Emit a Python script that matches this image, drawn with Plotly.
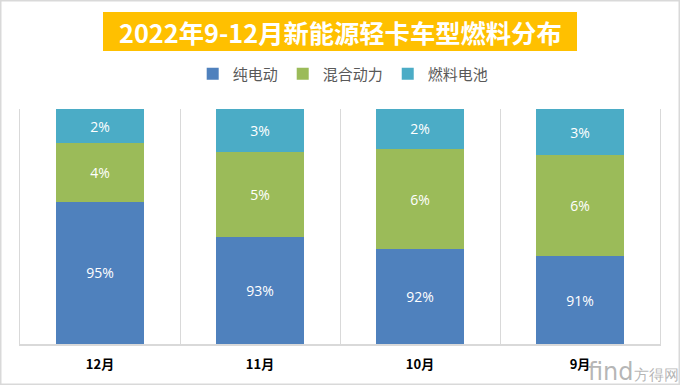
import plotly.graph_objects as go

# Categories (x axis)
months = ["12月", "11月", "10月", "9月"]

# Series names
series_names = ["纯电动", "混合动力", "燃料电池"]

# Printed data labels (%), as shown in the chart
label_bev = [95, 93, 92, 91]
label_hev = [4, 5, 6, 6]
label_fcev = [2, 3, 2, 3]

# Visible segment shares (%), as drawn in the picture
share_bev = [60.6, 45.7, 40.3, 37.4]
share_hev = [24.9, 35.9, 42.7, 43.0]
share_fcev = [14.5, 18.4, 17.0, 19.6]

colors = ["#4F81BD", "#9BBB59", "#4BACC6"]

W, H = 680, 385
ML, MR, MT, MB = 20, 20, 109, 41
PW, PH = W - ML - MR, H - MT - MB


def px_x(px):
    return (px - ML) / PW


def px_y(py):
    return (H - MB - py) / PH


fig = go.Figure()
for name, share, lab, col in zip(
    series_names,
    [share_bev, share_hev, share_fcev],
    [label_bev, label_hev, label_fcev],
    colors,
):
    fig.add_trace(
        go.Bar(
            x=months,
            y=share,
            name=name,
            marker=dict(color=col, line=dict(width=0)),
            text=[f"{v}%" for v in lab],
            textposition="inside",
            insidetextanchor="middle",
            textangle=0,
            textfont=dict(family="Open Sans", size=14, color="white"),
            hoverinfo="skip",
        )
    )

fig.update_layout(
    width=W,
    height=H,
    margin=dict(l=ML, r=MR, t=MT, b=MB, pad=0),
    barmode="stack",
    barnorm="percent",
    bargap=0.444,
    paper_bgcolor="white",
    plot_bgcolor="white",
    showlegend=True,
    legend=dict(
        orientation="h",
        x=0.505,
        xanchor="center",
        y=px_y(74),
        yanchor="middle",
        traceorder="normal",
        font=dict(family="Noto Sans CJK SC", size=15, color="#595959"),
        itemwidth=30,
        bgcolor="rgba(0,0,0,0)",
    ),
    xaxis=dict(
        type="category",
        tickson="boundaries",
        showgrid=True,
        gridcolor="#D9D9D9",
        gridwidth=1,
        showline=True,
        linecolor="#D9D9D9",
        linewidth=1.5,
        ticks="",
        ticklabelstandoff=8,
        tickfont=dict(family="Noto Sans CJK SC", size=13, color="#000000", weight="bold"),
        fixedrange=True,
    ),
    yaxis=dict(
        range=[0, 100],
        showticklabels=False,
        showgrid=False,
        zeroline=False,
        showline=True,
        linecolor="#D9D9D9",
        linewidth=1,
        mirror=True,
        ticks="",
        fixedrange=True,
    ),
)

# Title box (gold) and title text
fig.add_shape(
    type="rect",
    xref="paper",
    yref="paper",
    x0=px_x(103),
    x1=px_x(577),
    y0=px_y(51),
    y1=px_y(12),
    fillcolor="#FFC000",
    line=dict(width=0),
    layer="below",
)
fig.add_annotation(
    xref="paper",
    yref="paper",
    x=px_x(340),
    y=px_y(31.5),
    xanchor="center",
    yanchor="middle",
    text="<b>2022年9-12月新能源轻卡车型燃料分布</b>",
    showarrow=False,
    font=dict(family="Noto Sans CJK SC", size=25.3, color="white"),
)

# Outer chart border
fig.add_shape(
    type="rect",
    xref="paper",
    yref="paper",
    x0=px_x(0.75),
    x1=px_x(679.25),
    y0=px_y(384.25),
    y1=px_y(0.75),
    line=dict(color="#D9D9D9", width=1.5),
    fillcolor="rgba(0,0,0,0)",
)

# Watermark
fig.add_annotation(
    xref="paper",
    yref="paper",
    x=px_x(633),
    y=px_y(372),
    xanchor="center",
    yanchor="middle",
    text="<span style='font-size:24px'>find</span>方得网",
    showarrow=False,
    font=dict(family="DejaVu Sans", size=15, color="rgba(150,150,150,0.7)"),
)

fig.write_html(
    "out.html",
    config={"displayModeBar": False},
    post_script="document.body.style.margin='0';document.body.style.overflow='hidden';",
)
